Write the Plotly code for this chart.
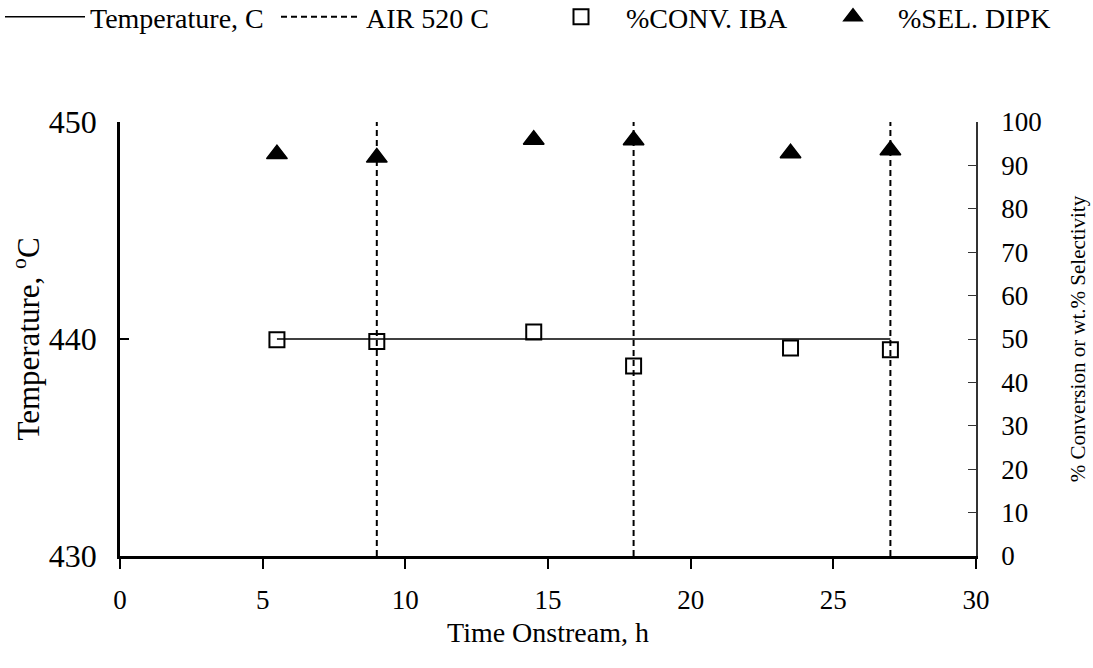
import plotly.graph_objects as go

# Time onstream (h) for each sample
time_h = [5.5, 9, 14.5, 18, 23.5, 27]
# Reactor temperature setpoint, C
temperature_c = [440, 440, 440, 440, 440, 440]
# Air regeneration events at 520 C (times, h)
air_times = [9, 18, 27]
air_span = [430, 450]
# Conversion of IBA and selectivity to DIPK (%)
conv_iba = [49.8, 49.4, 51.6, 43.8, 47.9, 47.5]
sel_dipk = [92.6, 91.8, 95.9, 95.8, 92.8, 93.5]

FONT = "Liberation Serif"
W, H = 1093, 668

# Vertical segments for each air regeneration, separated by gaps
air_x, air_y = [], []
for t in air_times:
    air_x += [t, t, None]
    air_y += [air_span[0], air_span[1], None]

fig = go.Figure()

fig.add_trace(go.Scatter(
    x=time_h, y=temperature_c, mode="lines", name="Temperature, C",
    line=dict(color="black", width=1.6), yaxis="y", legend="legend"))

fig.add_trace(go.Scatter(
    x=air_x, y=air_y, mode="lines", name="AIR 520 C",
    line=dict(color="black", width=2, dash="6px,4px"), yaxis="y", legend="legend2"))

fig.add_trace(go.Scatter(
    x=time_h, y=conv_iba, mode="markers", name="%CONV. IBA",
    marker=dict(symbol="square-open", size=15, color="black",
                line=dict(color="black", width=2)),
    yaxis="y2", legend="legend3"))

fig.add_trace(go.Scatter(
    x=time_h, y=sel_dipk, mode="markers", name="%SEL. DIPK",
    marker=dict(symbol="triangle-up", size=18, color="black",
                line=dict(color="black", width=1.5)),
    yaxis="y2", legend="legend4"))


def legend_box(left_px):
    """One-entry legend placed along the top strip of the figure."""
    return dict(
        orientation="h", x=left_px / W, xref="container", xanchor="left",
        y=1 - 17 / H, yref="container", yanchor="middle",
        font=dict(family=FONT, size=28, color="black"),
        bgcolor="rgba(0,0,0,0)", itemwidth=80,
    )


fig.update_layout(
    width=W, height=H,
    margin=dict(l=120, r=117, t=122, b=112),
    paper_bgcolor="white", plot_bgcolor="white",
    font=dict(family=FONT, size=27, color="black"),
    showlegend=True,
    legend=legend_box(0),
    legend2=legend_box(276),
    legend3=legend_box(536),
    legend4=legend_box(808),
    xaxis=dict(
        range=[0, 30], dtick=5, tick0=0, automargin=False,
        showgrid=False, zeroline=False,
        showline=True, linecolor="black", linewidth=2.5,
        ticks="outside", ticklen=10, tickwidth=2, tickcolor="black",
        ticklabelstandoff=8,
        tickfont=dict(family=FONT, size=27),
        title=dict(text="Time Onstream, h", font=dict(family=FONT, size=28), standoff=9),
    ),
    # thin frame line along the top of the plot area
    xaxis2=dict(
        range=[0, 30], overlaying="x", side="top", automargin=False,
        showgrid=False, zeroline=False, showticklabels=False, ticks="",
        showline=True, linecolor="#444444", linewidth=1.2,
    ),
    yaxis=dict(
        range=[430, 450], dtick=10, tick0=430, automargin=False,
        showgrid=False, zeroline=False,
        showline=True, linecolor="black", linewidth=2.5,
        ticks="inside", ticklen=9, tickwidth=1.5, tickcolor="black",
        ticklabelstandoff=14,
        tickfont=dict(family=FONT, size=32),
        title=dict(text="Temperature, <sup>o</sup>C", font=dict(family=FONT, size=31), standoff=0),
    ),
    yaxis2=dict(
        range=[0, 100], dtick=10, tick0=0, automargin=False,
        overlaying="y", side="right",
        showgrid=False, zeroline=False,
        showline=True, linecolor="#333333", linewidth=1.5,
        ticks="inside", ticklen=8, tickwidth=1.2, tickcolor="#333333",
        ticklabelstandoff=18,
        tickfont=dict(family=FONT, size=27),
        title=dict(text="% Conversion or wt.% Selectivity", font=dict(family=FONT, size=21), standoff=30),
    ),
)

fig.write_html("out.html")
